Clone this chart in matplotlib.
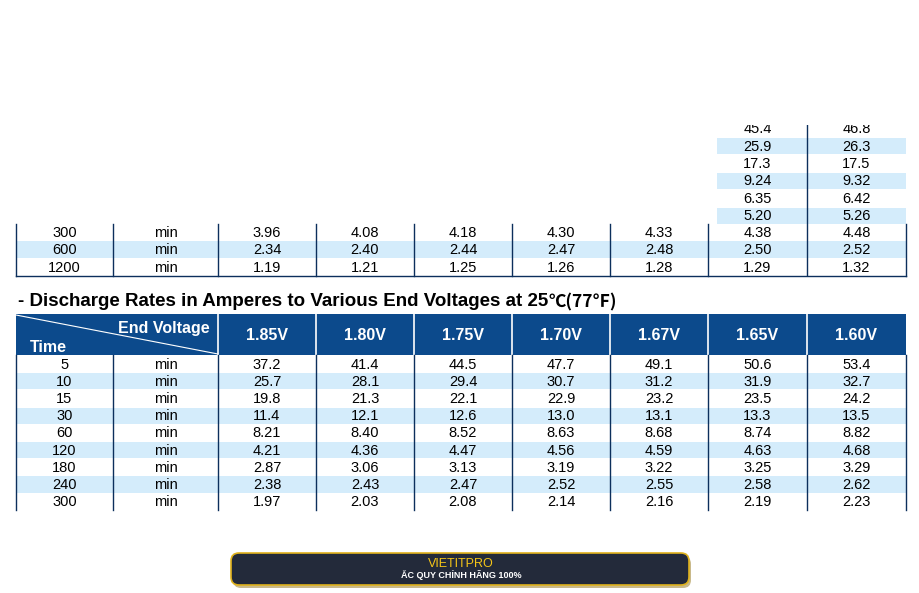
import matplotlib
matplotlib.use("Agg")
import matplotlib.pyplot as plt
from matplotlib.patches import Rectangle, FancyBboxPatch

plt.rcParams['font.family'] = ['Liberation Sans', 'DejaVu Sans']

voltages = ["1.85V", "1.80V", "1.75V", "1.70V", "1.67V", "1.65V", "1.60V"]
top_partial_165 = ["45.4", "25.9", "17.3", "9.24", "6.35", "5.20"]
top_partial_160 = ["46.8", "26.3", "17.5", "9.32", "6.42", "5.26"]
top_times = ["300", "600", "1200"]
top_vals = [
    ["3.96", "4.08", "4.18", "4.30", "4.33", "4.38", "4.48"],
    ["2.34", "2.40", "2.44", "2.47", "2.48", "2.50", "2.52"],
    ["1.19", "1.21", "1.25", "1.26", "1.28", "1.29", "1.32"],
]
times = ["5", "10", "15", "30", "60", "120", "180", "240", "300"]
vals = [
    ["37.2", "41.4", "44.5", "47.7", "49.1", "50.6", "53.4"],
    ["25.7", "28.1", "29.4", "30.7", "31.2", "31.9", "32.7"],
    ["19.8", "21.3", "22.1", "22.9", "23.2", "23.5", "24.2"],
    ["11.4", "12.1", "12.6", "13.0", "13.1", "13.3", "13.5"],
    ["8.21", "8.40", "8.52", "8.63", "8.68", "8.74", "8.82"],
    ["4.21", "4.36", "4.47", "4.56", "4.59", "4.63", "4.68"],
    ["2.87", "3.06", "3.13", "3.19", "3.22", "3.25", "3.29"],
    ["2.38", "2.43", "2.47", "2.52", "2.55", "2.58", "2.62"],
    ["1.97", "2.03", "2.08", "2.14", "2.16", "2.19", "2.23"],
]

W, H = 920, 593
fig = plt.figure(figsize=(W/100, H/100), dpi=100)
ax = fig.add_axes([0, 0, 1, 1])
ax.set_xlim(0, W); ax.set_ylim(H, 0); ax.axis("off")

xs = [16, 113, 218, 316, 414, 512, 610, 708, 807, 906]
rh = 17.4
shade = "#d4ecfb"
blue = "#0c4a8c"
line = "#0c2f5c"
fs = 10.5

def cx(i): return (xs[i] + xs[i+1]) / 2

y0 = 120
for r in range(len(top_partial_165)):
    yc = y0 + r * rh + rh/2
    if r % 2 == 1:
        ax.add_patch(Rectangle((717, yc - rh/2 + 0.5), 906 - 717, rh - 1.0, color=shade, lw=0))
    ax.text(cx(7), yc + 0.5, top_partial_165[r], ha="center", va="center", fontsize=fs)
    ax.text(cx(8), yc + 0.5, top_partial_160[r], ha="center", va="center", fontsize=fs)
ax.add_patch(Rectangle((0, 0), W, 125, color="white", lw=0, zorder=3))
ax.plot([807, 807], [125, 275], color=line, lw=1)

ty = 223.5
for r, t in enumerate(top_times):
    yc = ty + r * rh + rh/2 + 0.5
    if r % 2 == 1:
        ax.add_patch(Rectangle((16, yc - rh/2), 890, rh - 1.0, color=shade, lw=0))
    ax.text(cx(0), yc, t, ha="center", va="center", fontsize=fs)
    ax.text(cx(1), yc, "min", ha="center", va="center", fontsize=fs)
    for j, v in enumerate(top_vals[r]):
        ax.text(cx(j+2), yc, v, ha="center", va="center", fontsize=fs)
for x in xs:
    if x != 807:
        ax.plot([x, x], [ty, ty + 3*rh], color=line, lw=1)
ax.plot([16, 906], [ty + 3*rh, ty + 3*rh], color=line, lw=1)

t1 = ax.text(18, 302, "- Discharge Rates in Amperes to Various End Voltages at 25",
             ha="left", va="center", fontsize=13.5, fontweight="bold")
ax.annotate("\u2103(77\u2109)", xy=(1, 0.5), xycoords=t1, ha="left", va="center",
            fontsize=12.5, fontweight="bold", family=["Noto Sans CJK SC", "DejaVu Sans"])

hy0, hy1 = 314, 355
ax.add_patch(Rectangle((16, hy0), 890, hy1 - hy0, color=blue, lw=0))
for x in xs[2:-1]:
    ax.plot([x, x], [hy0, hy1], color="white", lw=1.2)
ax.plot([16, 218], [315, 354], color="white", lw=0.8)
ax.text(210, 328, "End Voltage", ha="right", va="center", color="white", fontsize=11.5, fontweight="bold")
ax.text(30, 347, "Time", ha="left", va="center", color="white", fontsize=11.5, fontweight="bold")
for j, v in enumerate(voltages):
    ax.text(cx(j+2), 335, v, ha="center", va="center", color="white", fontsize=11.5, fontweight="bold")

by = 355.5
rh2 = 17.2
for r, t in enumerate(times):
    yc = by + r * rh2 + rh2/2 + 0.5
    if r % 2 == 1:
        ax.add_patch(Rectangle((16, yc - rh2/2), 890, rh2 - 1.0, color=shade, lw=0))
    ax.text(cx(0), yc, t, ha="center", va="center", fontsize=fs)
    ax.text(cx(1), yc, "min", ha="center", va="center", fontsize=fs)
    for j, v in enumerate(vals[r]):
        ax.text(cx(j+2), yc, v, ha="center", va="center", fontsize=fs)
for x in xs:
    ax.plot([x, x], [hy1, by + len(times)*rh2], color=line, lw=1)

ax.add_patch(FancyBboxPatch((233, 556), 458, 32, boxstyle="round,pad=0,rounding_size=8",
                            fc="#c9b98a", ec="none"))
ax.add_patch(FancyBboxPatch((231, 553), 458, 32, boxstyle="round,pad=0,rounding_size=8",
                            fc="#232a3a", ec="#e0b21c", lw=1.2))
ax.text(461, 564, "VIETITPRO", ha="center", va="center", color="#f5c518", fontsize=9)
ax.text(461, 575, "ẮC QUY CHÍNH HÃNG 100%", ha="center", va="center", color="white",
        fontsize=6.5, fontweight="bold")

fig.savefig("out.png", dpi=100)
